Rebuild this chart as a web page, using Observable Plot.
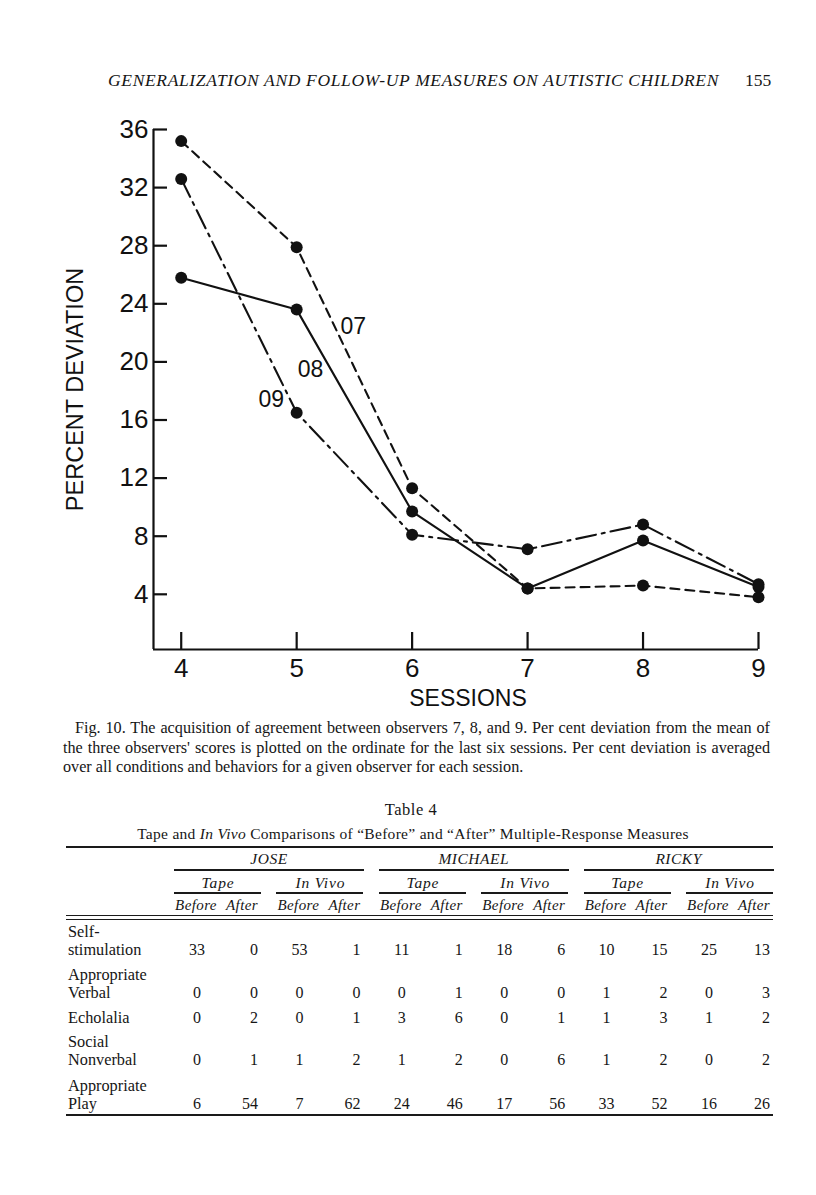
<!DOCTYPE html>
<html>
<head>
<meta charset="utf-8">
<script src="https://cdn.jsdelivr.net/npm/d3@7"></script>
<script src="https://cdn.jsdelivr.net/npm/@observablehq/plot@0.6"></script>
<style>
  html, body { margin: 0; padding: 0; background: #fff; }
  body { width: 816px; height: 1195px; position: relative; overflow: hidden;
         font-family: "Liberation Serif", "Times New Roman", serif; color: #161616; }
  .t { position: absolute; white-space: nowrap; line-height: 20px; }
  .c { transform: translateX(-50%); }
  .r { transform: translateX(-100%); }
  .i { font-style: italic; }
  .rule { position: absolute; background: #1a1a1a; }
  .jl { position: absolute; white-space: nowrap; line-height: 20px; font-size: 16.2px;
        text-align: justify; text-align-last: justify; }
  #chart { position: absolute; left: 0; top: 110px; }
</style>
</head>
<body>
<div id="chart"></div>
<div id="page"></div>
<script>
// ---------- chart data ----------
const sessions = [4, 5, 6, 7, 8, 9];
const observers = ["07", "08", "09"];
const obs07 = [35.2, 27.9, 11.3, 4.4, 4.6, 3.8];
const obs08 = [25.8, 23.6, 9.7, 4.4, 7.7, 4.5];
const obs09 = [32.6, 16.5, 8.1, 7.1, 8.8, 4.7];
const yTicks = [4, 8, 12, 16, 20, 24, 28, 32, 36];
const xTicks = [4, 5, 6, 7, 8, 9];
// annotation anchors (data units)
const labelSession = [5.49, 5.12, 4.78];
const labelPct = [22.4, 19.5, 17.4];

// ---------- table data ----------
const children = ["JOSE", "MICHAEL", "RICKY"];
const media = ["Tape", "In Vivo"];
const phases = ["Before", "After"];
const behaviors = [["Self-", "stimulation"], ["Appropriate", "Verbal"], ["Echolalia"], ["Social", "Nonverbal"], ["Appropriate", "Play"]];
const scores = [
  [33, 0, 53, 1, 11, 1, 18, 6, 10, 15, 25, 13],
  [0, 0, 0, 0, 0, 1, 0, 0, 1, 2, 0, 3],
  [0, 2, 0, 1, 3, 6, 0, 1, 1, 3, 1, 2],
  [0, 1, 1, 2, 1, 2, 0, 6, 1, 2, 0, 2],
  [6, 54, 7, 62, 24, 46, 17, 56, 33, 52, 16, 26]
];

// ---------- build chart ----------
const seriesValues = [obs07, obs08, obs09];
const rows = observers.flatMap((o, k) => sessions.map((s, i) => ({observer: o, session: s, pct: seriesValues[k][i]})));
const dashes = {"07": "9,6", "08": null, "09": "20,6,3,6"};
const labels = observers.map((o, k) => ({observer: o, session: labelSession[k], pct: labelPct[k]}));
const xDomain = [3.76, 9];
const yDomain = [0.2, 36];

const lineMarks = observers.map(o => Plot.line(rows.filter(d => d.observer === o), {
  x: "session", y: "pct", stroke: "#111", strokeWidth: 2.1,
  strokeDasharray: dashes[o] || undefined
}));

const chart = Plot.plot({
  width: 816, height: 610,
  marginLeft: 153, marginRight: 58, marginTop: 19, marginBottom: 71,
  x: {domain: xDomain},
  y: {domain: yDomain},
  style: {fontFamily: "'Liberation Sans', Arial, sans-serif", color: "#111", background: "transparent", overflow: "visible"},
  marks: [
    Plot.ruleX([xDomain[0]], {strokeWidth: 2.2}),
    Plot.ruleY([yDomain[0]], {strokeWidth: 2.2}),
    Plot.axisY(yTicks, {tickSize: -14, fill: "none", strokeWidth: 2.2, label: null}),
    Plot.axisY(yTicks, {tickSize: 0, tickPadding: 5, fontSize: 26, label: null, tickFormat: d => String(d)}),
    Plot.axisX(xTicks, {tickSize: -17, fill: "none", strokeWidth: 2.2, label: null}),
    Plot.axisX(xTicks, {tickSize: 0, tickPadding: 9, fontSize: 26, label: null, tickFormat: d => String(d)}),
    ...lineMarks,
    Plot.dot(rows, {x: "session", y: "pct", r: 6, fill: "#111", stroke: "none"}),
    Plot.text(labels, {x: "session", y: "pct", text: "observer", fontSize: 23, fill: "#111"}),
    Plot.text(["PERCENT DEVIATION"], {frameAnchor: "left", textAnchor: "middle", lineAnchor: "middle", dx: -78, rotate: -90, fontSize: 23.5, fill: "#111"}),
    Plot.text(["SESSIONS"], {frameAnchor: "bottom", textAnchor: "middle", lineAnchor: "middle", dx: 12, dy: 49, fontSize: 23, fill: "#111"})
  ]
});
document.getElementById("chart").appendChild(chart);

// ---------- page text ----------
const page = document.getElementById("page");
function txt(s, x, yc, cls, size, extra) {
  const d = document.createElement("div");
  d.className = "t " + (cls || "");
  d.innerHTML = s;
  d.style.left = x + "px";
  d.style.top = (yc - 10) + "px";
  d.style.fontSize = (size || 15) + "px";
  if (extra) Object.assign(d.style, extra);
  page.appendChild(d);
  return d;
}
function rule(x1, x2, y, h) {
  const d = document.createElement("div");
  d.className = "rule";
  d.style.left = x1 + "px"; d.style.width = (x2 - x1) + "px";
  d.style.top = (y - h / 2) + "px"; d.style.height = h + "px";
  page.appendChild(d);
}
function jline(s, x, w, yc) {
  const d = document.createElement("div");
  d.className = "jl";
  d.innerHTML = s;
  d.style.left = x + "px"; d.style.width = w + "px"; d.style.top = (yc - 10) + "px";
  page.appendChild(d);
}

// running head
txt("GENERALIZATION AND FOLLOW-UP MEASURES ON AUTISTIC CHILDREN", 108, 80, "i", 17.5, {letterSpacing: "0.65px"});
txt("155", 745, 80, "", 17.5);

// caption
jline("Fig. 10. The acquisition of agreement between observers 7, 8, and 9. Per cent deviation from the mean of", 75, 695, 728);
jline("the three observers' scores is plotted on the ordinate for the last six sessions. Per cent deviation is averaged", 63, 707, 748);
txt("over all conditions and behaviors for a given observer for each session.", 63, 767, "", 16.2);

// table title
txt("Table 4", 411, 810, "c", 16.5, {letterSpacing: "0.5px"});
txt("Tape and <i>In Vivo</i> Comparisons of “Before” and “After” Multiple-Response Measures", 413, 834, "c", 15.5, {letterSpacing: "0.3px"});

// table geometry
const pairX = p => 174 + 102.4 * p;
const groupX = g => 174 + 204.8 * g;
rule(66, 773, 847, 1.6);
children.forEach((c, g) => {
  txt(c, groupX(g) + 95, 859, "c i", 15.5, {letterSpacing: "0.5px"});
  rule(groupX(g), groupX(g) + 190, 870, 1.4);
  media.forEach((m, j) => {
    const p = g * 2 + j;
    txt(m, pairX(p) + 44, 883, "c i", 15.5, {letterSpacing: "0.8px"});
    rule(pairX(p), pairX(p) + 87, 893, 1.4);
    txt(phases[0], pairX(p) + 22, 905, "c i", 15, {letterSpacing: "0.4px"});
    txt(phases[1], pairX(p) + 68, 905, "c i", 15, {letterSpacing: "0.4px"});
  });
});
rule(66, 773, 915.5, 1.4);
rule(66, 773, 919.5, 1.4);

const rowY = [950, 993, 1018, 1060, 1104];
behaviors.forEach((lines, r) => {
  const y2 = rowY[r];
  if (lines.length === 2) {
    txt(lines[0], 68, y2 - 18, "", 16.3);
    txt(lines[1], 68, y2, "", 16.3);
  } else {
    txt(lines[0], 68, y2, "", 16.3);
  }
  scores[r].forEach((v, k) => {
    const p = Math.floor(k / 2);
    if (k % 2 === 0) txt(String(v), pairX(p) + 23, y2, "c", 16);
    else txt(String(v), pairX(p) + 84, y2, "r", 16);
  });
});
rule(66, 773, 1115, 1.8);
</script>
</body>
</html>
